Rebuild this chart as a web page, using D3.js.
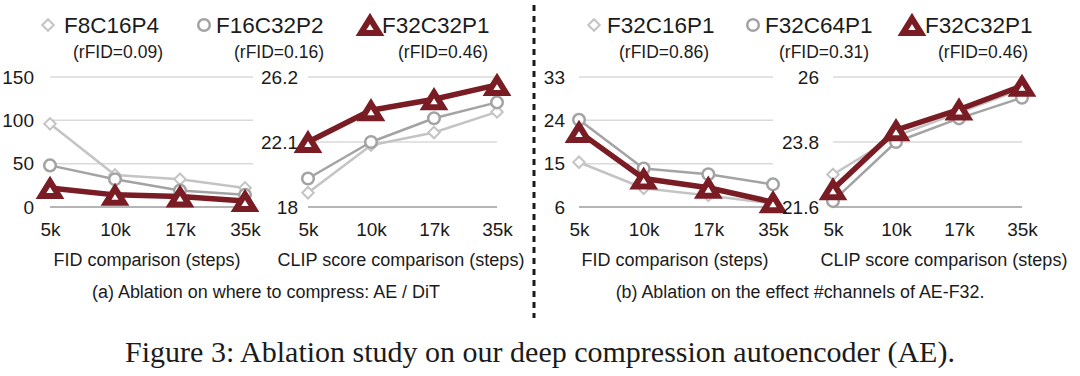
<!DOCTYPE html>
<html>
<head>
<meta charset="utf-8">
<script src="https://cdn.jsdelivr.net/npm/d3@7"></script>
<style>
  body { margin: 0; background: #fff; }
  text { font-family: "Liberation Sans", Arial, sans-serif; fill: #1b1b1b; }
</style>
</head>
<body>
<div id="chart"></div>
<script>
// ---- data ----
const steps = ["5k", "10k", "17k", "35k"];

const namesA = ["F8C16P4", "F16C32P2", "F32C32P1"];
const rfidA = ["(rFID=0.09)", "(rFID=0.16)", "(rFID=0.46)"];
const namesB = ["F32C16P1", "F32C64P1", "F32C32P1"];
const rfidB = ["(rFID=0.86)", "(rFID=0.31)", "(rFID=0.46)"];

// series order: diamond, circle, triangle
const fidA = [[96, 37, 32, 22], [48, 32, 19, 14], [22, 14, 12, 7]];
const clipA = [[18.9, 21.9, 22.7, 24.0], [19.8, 22.1, 23.6, 24.6], [22.1, 24.1, 24.8, 25.7]];
const fidB = [[15.3, 9.9, 8.4, 6.7], [24.1, 14.0, 12.8, 10.7], [21.6, 11.9, 10.0, 7.0]];
const clipB = [[22.7, 24.0, 24.8, 25.6], [21.8, 23.8, 24.6, 25.3], [22.2, 24.2, 24.9, 25.7]];

const fidATicks = [0, 50, 100, 150];
const clipATicks = [18, 22.1, 26.2];
const fidBTicks = [6, 15, 24, 33];
const clipBTicks = [21.6, 23.8, 26];

const fidTitle = "FID comparison (steps)";
const clipTitle = "CLIP score comparison (steps)";
const captionA = "(a) Ablation on where to compress: AE / DiT";
const captionB = "(b) Ablation on the effect #channels of AE-F32.";
const figCaption = "Figure 3: Ablation study on our deep compression autoencoder (AE).";

// ---- layout ----
const W = 1080, H = 376;
const yTop = 77, yBot = 207;
const colors = ["#c4c4c4", "#a3a3a3", "#7a1c24"];
const lineW = [2.5, 2.5, 5.5];

const panels = [
  { data: fidA, ticks: fidATicks, x0: 50, x1: 245, gridEnd: 253, pad: 16, title: fidTitle, titleX: 147 },
  { data: clipA, ticks: clipATicks, x0: 308, x1: 497, gridEnd: 497, pad: 10, title: clipTitle, titleX: 401 },
  { data: fidB, ticks: fidBTicks, x0: 579, x1: 773, gridEnd: 773, pad: 14, title: fidTitle, titleX: 675 },
  { data: clipB, ticks: clipBTicks, x0: 833, x1: 1022, gridEnd: 1022, pad: 14, title: clipTitle, titleX: 944 }
];

const svg = d3.select("#chart").append("svg")
  .attr("width", W)
  .attr("height", H);

svg.append("rect").attr("width", W).attr("height", H).attr("fill", "#fff");

// marker drawing
function drawMarker(g, kind, x, y) {
  if (kind === 0) {
    g.append("path")
      .attr("d", d3.symbol().type(d3.symbolSquare).size(66)())
      .attr("transform", `translate(${x},${y}) rotate(45)`)
      .attr("fill", "#fff")
      .attr("stroke", colors[0])
      .attr("stroke-width", 2);
  } else if (kind === 1) {
    g.append("circle")
      .attr("cx", x).attr("cy", y).attr("r", 5.8)
      .attr("fill", "#fff")
      .attr("stroke", colors[1])
      .attr("stroke-width", 2.5);
  } else {
    g.append("path")
      .attr("d", "M0,-6.5L9,8L-9,8Z")
      .attr("transform", `translate(${x},${y})`)
      .attr("fill", "#fff")
      .attr("stroke", colors[2])
      .attr("stroke-width", 6)
      .attr("stroke-linejoin", "miter");
  }
}

panels.forEach(p => {
  const g = svg.append("g");

  const x = d3.scalePoint().domain(steps).range([p.x0, p.x1]);
  const y = d3.scaleLinear().domain([p.ticks[0], p.ticks[p.ticks.length - 1]]).range([yBot, yTop]);

  // gridlines
  g.selectAll(".grid")
    .data(p.ticks)
    .join("line")
    .attr("x1", p.x0)
    .attr("x2", p.gridEnd)
    .attr("y1", d => y(d))
    .attr("y2", d => y(d))
    .attr("stroke", (d, i) => i === 0 ? "#9d9d9d" : "#dadada")
    .attr("stroke-width", 1.5);

  // y axis labels
  const yAxis = g.append("g")
    .attr("transform", `translate(${p.x0},0)`)
    .call(d3.axisLeft(y).tickValues(p.ticks).tickSize(0).tickPadding(p.pad).tickFormat(d => String(d)));
  yAxis.select(".domain").remove();
  yAxis.selectAll("text").attr("font-size", 19).attr("font-family", null);

  // x axis labels
  const xAxis = g.append("g")
    .attr("transform", `translate(0,${yBot})`)
    .call(d3.axisBottom(x).tickSize(0).tickPadding(16));
  xAxis.select(".domain").remove();
  xAxis.selectAll("text").attr("font-size", 19).attr("font-family", null);

  // axis title
  g.append("text")
    .attr("x", p.titleX)
    .attr("y", 266)
    .attr("text-anchor", "middle")
    .attr("font-size", 18)
    .text(p.title);

  const line = d3.line()
    .x((d, i) => x(steps[i]))
    .y(d => y(d));

  p.data.forEach((series, k) => {
    g.append("path")
      .datum(series)
      .attr("d", line)
      .attr("fill", "none")
      .attr("stroke", colors[k])
      .attr("stroke-width", lineW[k])
      .attr("stroke-linejoin", "round");
    series.forEach((v, i) => drawMarker(g, k, x(steps[i]), y(v)));
  });
});

// legends
const legendA = [
  { mx: 48, tx: 64, rx: 118 },
  { mx: 204, tx: 216, rx: 279 },
  { mx: 370, tx: 382, rx: 443 }
];
const legendB = [
  { mx: 594, tx: 607, rx: 664 },
  { mx: 753, tx: 765, rx: 824 },
  { mx: 912, tx: 925, rx: 983 }
];

function drawLegend(pos, names, rfids) {
  const g = svg.append("g");
  pos.forEach((p, k) => {
    drawMarker(g, k, p.mx, 25);
    g.append("text")
      .attr("x", p.tx).attr("y", 33)
      .attr("font-size", 22.5)
      .text(names[k]);
    g.append("text")
      .attr("x", p.rx).attr("y", 58)
      .attr("text-anchor", "middle")
      .attr("font-size", 17.5)
      .text(rfids[k]);
  });
}
drawLegend(legendA, namesA, rfidA);
drawLegend(legendB, namesB, rfidB);

// dotted divider
svg.append("line")
  .attr("x1", 534).attr("x2", 534)
  .attr("y1", 5).attr("y2", 318)
  .attr("stroke", "#1b1b1b")
  .attr("stroke-width", 3)
  .attr("stroke-dasharray", "6,5");

// sub captions
function fitText(sel, width) {
  const len = sel.node().getComputedTextLength();
  const fs = parseFloat(sel.attr("font-size"));
  sel.attr("font-size", fs * width / len);
}

const capA = svg.append("text")
  .attr("x", 266).attr("y", 298)
  .attr("text-anchor", "middle")
  .attr("font-size", 16)
  .text(captionA);
fitText(capA, 348);

const capB = svg.append("text")
  .attr("x", 800).attr("y", 298)
  .attr("text-anchor", "middle")
  .attr("font-size", 16)
  .text(captionB);
fitText(capB, 369);

const fig = svg.append("text")
  .attr("x", 540).attr("y", 362)
  .attr("text-anchor", "middle")
  .style("font-family", "'Liberation Serif', 'Times New Roman', serif")
  .attr("font-size", 27)
  .text(figCaption);
fitText(fig, 830);
</script>
</body>
</html>
